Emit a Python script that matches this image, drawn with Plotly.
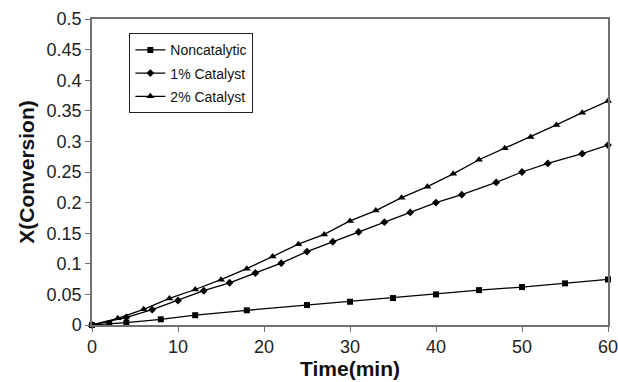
import plotly.graph_objects as go

# Noncatalytic
t_non = [0, 2, 4, 8, 12, 18, 25, 30, 35, 40, 45, 50, 55, 60]
x_non = [0, 0.002, 0.004, 0.0093, 0.016, 0.024, 0.0326, 0.038, 0.044, 0.05, 0.057, 0.062, 0.068, 0.0744]

# 1% Catalyst
t_1 = [0, 4, 7, 10, 13, 16, 19, 22, 25, 28, 31, 34, 37, 40, 43, 47, 50, 53, 57, 60]
x_1 = [0, 0.0125, 0.025, 0.04, 0.056, 0.069, 0.085, 0.101, 0.12, 0.136, 0.152, 0.168,
       0.184, 0.2, 0.213, 0.233, 0.25, 0.264, 0.28, 0.294]

# 2% Catalyst
t_2 = [0, 3, 6, 9, 12, 15, 18, 21, 24, 27, 30, 33, 36, 39, 42, 45, 48, 51, 54, 57, 60]
x_2 = [0, 0.011, 0.0256, 0.0435, 0.058, 0.074, 0.092, 0.112, 0.132, 0.148, 0.17, 0.187,
       0.208, 0.226, 0.247, 0.27, 0.289, 0.307, 0.327, 0.347, 0.366]

x_ticks = [0, 10, 20, 30, 40, 50, 60]
y_ticks = [0, 0.05, 0.1, 0.15, 0.2, 0.25, 0.3, 0.35, 0.4, 0.45, 0.5]
y_ticklabels = ["0", "0.05", "0.1", "0.15", "0.2", "0.25", "0.3", "0.35", "0.4", "0.45", "0.5"]

series = [
    ("Noncatalytic", t_non, x_non, "square", 6),
    ("1% Catalyst", t_1, x_1, "diamond", 6),
    ("2% Catalyst", t_2, x_2, "triangle-up", 7),
]

fig = go.Figure()
for i, (name, t, x, sym, sz) in enumerate(series):
    fig.add_trace(go.Scatter(
        x=t, y=x, name=name, mode="lines+markers", legendgroup=f"g{i}",
        line=dict(color="black", width=1.3),
        marker=dict(symbol=sym, size=sz, color="black"),
        cliponaxis=False,
    ))

FONT = "Liberation Sans, Arial"
axis_common = dict(
    showline=True, linecolor="#707070", linewidth=1.5, mirror=True,
    ticks="outside", ticklen=5, tickcolor="#707070", tickwidth=1.2,
    showgrid=False, zeroline=False, automargin=False,
    ticklabeloverflow="allow",
    tickfont=dict(family=FONT, size=18, color="#222222"),
)

fig.update_layout(
    template="none",
    width=618, height=382,
    margin=dict(l=92, r=10, t=19, b=57, autoexpand=False),
    paper_bgcolor="white", plot_bgcolor="white",
    xaxis=dict(range=[0, 60], tickvals=x_ticks,
               title=dict(text="<b>Time(min)</b>", standoff=2,
                          font=dict(family=FONT, size=21, color="#111111")),
               **axis_common),
    yaxis=dict(range=[0, 0.5], tickvals=y_ticks, ticktext=y_ticklabels,
               title=dict(text="<b>X(Conversion)</b>", standoff=6,
                          font=dict(family=FONT, size=21, color="#111111")),
               **axis_common),
    legend=dict(x=0.072, y=0.954, xanchor="left", yanchor="top",
                bordercolor="#222222", borderwidth=1.2, bgcolor="white",
                tracegroupgap=2,
                font=dict(family=FONT, size=14, color="#111111")),
    showlegend=True,
)

fig.write_html("out.html", config={"displayModeBar": False},
               post_script="document.body.style.margin='0';")
